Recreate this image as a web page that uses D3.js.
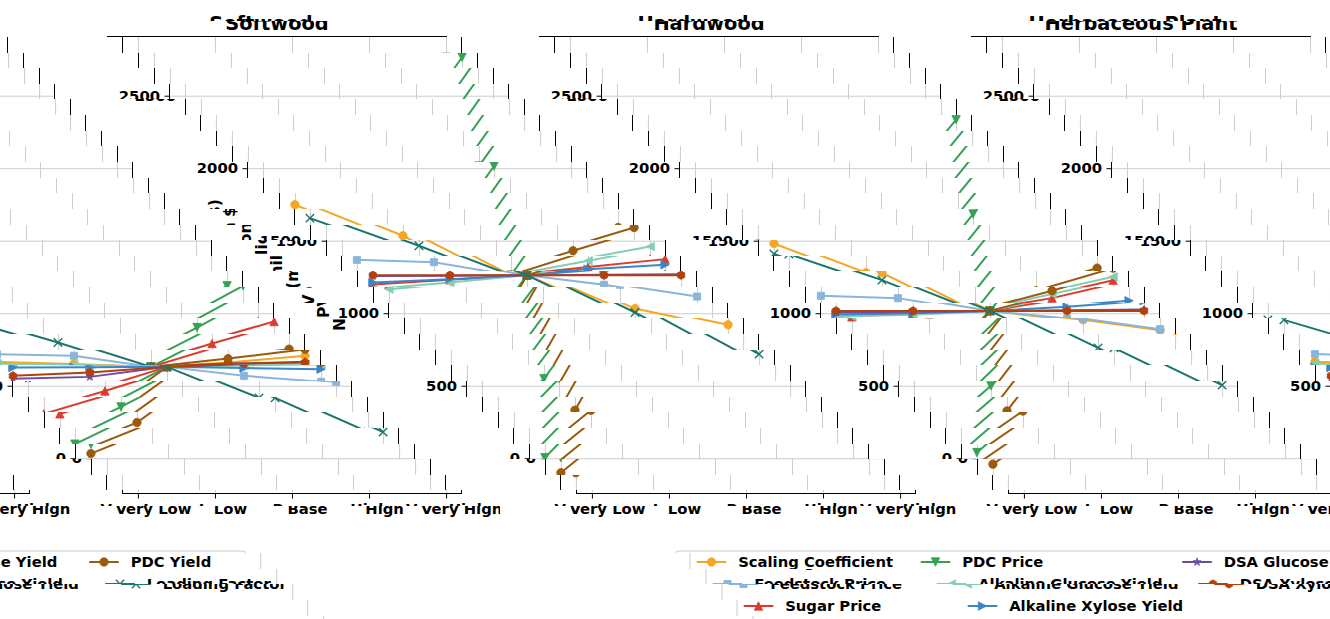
<!DOCTYPE html>
<html>
<head>
<meta charset="utf-8">
<script src="https://cdn.jsdelivr.net/npm/d3@7"></script>
<style>
  body { margin: 0; background: #fff; }
  svg { display: block; }
  text { font-family: "DejaVu Sans", sans-serif; font-weight: bold; }
</style>
</head>
<body>
<div id="vis"></div>
<script>
// Sensitivity levels on the x axis and the three feedstocks
const LEVELS = ["Very Low", "Low", "Base", "High", "Very High"];
const PANELS = ["Softwood", "Hardwood", "Herbaceous Plant"];
const Y_TICKS = [0, 500, 1000, 1500, 2000, 2500];

// Parameters, in legend order
const SERIES = ["Scaling Coefficient", "Feedstock Price", "Sugar Price", "PDC Price",
                "Alkaline Glucose Yield", "Alkaline Xylose Yield", "DSA Glucose Yield",
                "DSA Xylose Yield", "PDC Yield", "Loading Factor"];
const COLORS = ["#f5a623", "#89b4dc", "#dc3b2e", "#35a154", "#82cfb4",
                "#3a87c8", "#6a4ba8", "#b3400a", "#9a5b0c", "#1b756c"];
const MARKERS = ["circle", "square", "up", "down", "left", "right",
                 "star", "hexagon", "circle", "x"];

// NPV values (million $) at each level, one row per parameter
const SOFTWOOD_NPV = [
  [1748, 1534, 1262, 1032, 920],
  [1368, 1352, 1262, 1196, 1115],
  [1198, 1230, 1262, 1318, 1373],
  [4, 549, 1262, 2015, 2765],
  [1166, 1212, 1262, 1362, 1460],
  [1212, 1235, 1262, 1304, 1334],
  [1256, 1259, 1262, 1265, 1268],
  [1262, 1262, 1262, 1262, 1262],
  [-100, 331, 1262, 1431, 1591],
  [1656, 1465, 1262, 1005, 718]
];
const HARDWOOD_NPV = [
  [1481, 1279, 1016, 955, 882],
  [1120, 1104, 1016, 963, 890],
  [975, 996, 1016, 1104, 1228],
  [39, 499, 1016, 1684, 2335],
  [978, 990, 1016, 1132, 1251],
  [992, 1000, 1016, 1044, 1086],
  [1005, 1010, 1016, 1020, 1025],
  [1016, 1016, 1016, 1016, 1016],
  [-41, 326, 1016, 1155, 1311],
  [1408, 1228, 1016, 761, 504]
];
const HERBACEOUS_NPV = [
  [665, 650, 630, 660, 706],
  [718, 706, 630, 568, 527],
  [306, 464, 630, 791, 943],
  [97, 354, 630, 901, 1189],
  [652, 644, 630, 640, 648],
  [625, 627, 630, 622, 614],
  [548, 561, 630, 650, 665],
  [568, 591, 630, 653, 660],
  [32, 246, 630, 687, 752],
  [954, 798, 630, 416, 181]
];
const PANEL_DATA = [SOFTWOOD_NPV, HARDWOOD_NPV, HERBACEOUS_NPV];

// Figure and layout
const FIG_W = 1330, FIG_H = 619;
const ORIG_W = 1318;                    // width of the unshifted drawing
const BAND_H = 15.64, BAND_Y0 = 5.6;    // row bands, each shifted one band further right
const AX = {left: 91.5, width: 339, gap: 432, top: 36.5, bottom: 493.5};
const LEGEND = {left: 143, top: 551, colX: [164.5, 388.5, 650, 875], rowY: [562, 584, 606]};
const FS = 14.8;

const SVG = d3.select("#vis")
  .append("svg")
    .attr("width", FIG_W)
    .attr("height", FIG_H);

const DEFS = SVG.append("defs");
DEFS.append("clipPath").attr("id", "orig-clip")
  .append("rect").attr("x", 0).attr("y", 0).attr("width", ORIG_W).attr("height", FIG_H);

const CHART = DEFS.append("g").attr("id", "chart").attr("clip-path", "url(#orig-clip)");

// Shared y scale, padded 5% like matplotlib
const ALL = PANEL_DATA.flat(2);
const Y_MIN = d3.min(ALL), Y_MAX = d3.max(ALL);
const Y_PAD = (Y_MAX - Y_MIN) * 0.05;
const Y_SCALE = d3.scaleLinear()
                  .domain([Y_MIN - Y_PAD, Y_MAX + Y_PAD])
                  .range([AX.bottom, AX.top]);

// Marker outlines, r = half size
function markerPath(type, r) {
  const poly = (pts) => "M" + pts.map(p => p.join(",")).join("L") + "Z";
  if (type === "circle") return d3.symbol(d3.symbolCircle, Math.PI * r * r)();
  if (type === "square") { const a = r * 0.85; return poly([[-a, -a], [a, -a], [a, a], [-a, a]]); }
  if (type === "up") return poly([[0, -r], [-r, r], [r, r]]);
  if (type === "down") return poly([[0, r], [-r, -r], [r, -r]]);
  if (type === "left") return poly([[-r, 0], [r, -r], [r, r]]);
  if (type === "right") return poly([[r, 0], [-r, -r], [-r, r]]);
  if (type === "star") {
    return poly(d3.range(10).map(i => {
      const rr = i % 2 ? r * 0.382 : r, a = Math.PI * i / 5;
      return [rr * Math.sin(a), -rr * Math.cos(a)];
    }));
  }
  if (type === "hexagon") {
    return poly(d3.range(6).map(i => [r * Math.sin(Math.PI * i / 3), -r * Math.cos(Math.PI * i / 3)]));
  }
  return `M${-r},${-r}L${r},${r}M${-r},${r}L${r},${-r}`;
}

function drawMarker(sel, i) {
  const x = MARKERS[i] === "x";
  sel.append("path")
    .attr("d", markerPath(MARKERS[i], 4.2))
    .attr("fill", x ? "none" : COLORS[i])
    .attr("stroke", COLORS[i])
    .attr("stroke-width", x ? 1.4 : 0.8);
}

function styleLabels(a) {
  a.select(".domain").remove();
  a.selectAll("text")
    .attr("font-size", FS + "px")
    .attr("fill", "#000")
    .style("font-family", "DejaVu Sans")
    .style("font-weight", "bold");
}

// Three panels
PANELS.forEach((name, p) => {
  const left = AX.left + p * AX.gap;
  const X_SCALE = d3.scalePoint()
                    .domain(LEVELS)
                    .range([left, left + AX.width])
                    .padding(0.2);
  const g = CHART.append("g");

  // Grid
  g.append("g")
    .attr("transform", "translate(" + left + ",0)")
    .call(d3.axisLeft(Y_SCALE).tickValues(Y_TICKS).tickSize(-AX.width).tickFormat(""))
    .call(a => a.select(".domain").remove())
    .call(a => a.selectAll("line").attr("stroke", "#cdcdcd"));
  g.append("g")
    .attr("transform", "translate(0," + AX.bottom + ")")
    .call(d3.axisBottom(X_SCALE).tickSize(-(AX.bottom - AX.top)).tickFormat(""))
    .call(a => a.select(".domain").remove())
    .call(a => a.selectAll("line").attr("stroke", "#cdcdcd"));

  // Lines and markers
  PANEL_DATA[p].forEach((vals, i) => {
    const pts = vals.map((v, j) => [X_SCALE(LEVELS[j]), Y_SCALE(v)]);
    g.append("path")
      .attr("d", d3.line()(pts))
      .attr("fill", "none")
      .attr("stroke", COLORS[i])
      .attr("stroke-width", 2);
    pts.forEach(pt => {
      g.append("g").attr("transform", "translate(" + pt[0] + "," + pt[1] + ")").call(drawMarker, i);
    });
  });

  // Frame
  g.append("rect")
    .attr("x", left).attr("y", AX.top)
    .attr("width", AX.width).attr("height", AX.bottom - AX.top)
    .attr("fill", "none").attr("stroke", "#000").attr("stroke-width", 1);

  // Axes
  g.append("g")
    .attr("transform", "translate(" + left + ",0)")
    .call(d3.axisLeft(Y_SCALE).tickValues(Y_TICKS).tickFormat(d3.format("d"))
            .tickSize(5).tickPadding(4.5))
    .call(styleLabels);
  g.append("g")
    .attr("transform", "translate(0," + AX.bottom + ")")
    .call(d3.axisBottom(X_SCALE).tickSize(5).tickPadding(4.5))
    .call(styleLabels);

  // Title
  g.append("text")
    .attr("x", left + AX.width / 2)
    .attr("y", 30)
    .attr("text-anchor", "middle")
    .attr("font-size", "19.4px")
    .text(name);
});

// Y label
CHART.append("text")
  .attr("transform", "translate(27," + (AX.top + AX.bottom) / 2 + ") rotate(-90)")
  .attr("text-anchor", "middle")
  .attr("dy", "0.35em")
  .attr("font-size", "15.6px")
  .text("NPV (million $)");

// Legend, filled column by column
const ROWS_PER_COL = [3, 3, 2, 2];
const LEG = CHART.append("g");
const frame = LEG.append("rect")
  .attr("x", LEGEND.left).attr("y", LEGEND.top)
  .attr("rx", 3)
  .attr("fill", "#fff").attr("fill-opacity", 0.8)
  .attr("stroke", "#cccccc");
let right = 0;
SERIES.forEach((s, i) => {
  let c = 0, r = i;
  while (r >= ROWS_PER_COL[c]) { r -= ROWS_PER_COL[c]; c++; }
  const cx = LEGEND.colX[c], cy = LEGEND.rowY[r];
  LEG.append("line")
    .attr("x1", cx - FS).attr("x2", cx + FS)
    .attr("y1", cy).attr("y2", cy)
    .attr("stroke", COLORS[i]).attr("stroke-width", 2);
  LEG.append("g").attr("transform", "translate(" + cx + "," + cy + ")").call(drawMarker, i);
  const t = LEG.append("text")
    .attr("x", cx + FS * 1.8)
    .attr("y", cy)
    .attr("dy", "0.35em")
    .attr("font-size", FS + "px")
    .text(s);
  right = Math.max(right, cx + FS * 1.8 + t.node().getComputedTextLength());
});
frame.attr("width", right + 6 - LEGEND.left).attr("height", 80);

// Paint the drawing band by band, each band shifted right and wrapped
for (let k = -1; BAND_Y0 + k * BAND_H < FIG_H; k++) {
  const y0 = Math.max(0, Math.round(BAND_Y0 + k * BAND_H));
  const y1 = Math.min(FIG_H, Math.round(BAND_Y0 + (k + 1) * BAND_H));
  const shift = Math.round(k * BAND_H);
  DEFS.append("clipPath").attr("id", "band" + (k + 1))
    .append("rect").attr("x", 0).attr("y", y0).attr("width", FIG_W).attr("height", y1 - y0);
  const band = SVG.append("g").attr("clip-path", "url(#band" + (k + 1) + ")");
  [-1, 0, 1].forEach(m => {
    band.append("use").attr("href", "#chart").attr("x", shift + m * ORIG_W);
  });
}
</script>
</body>
</html>
